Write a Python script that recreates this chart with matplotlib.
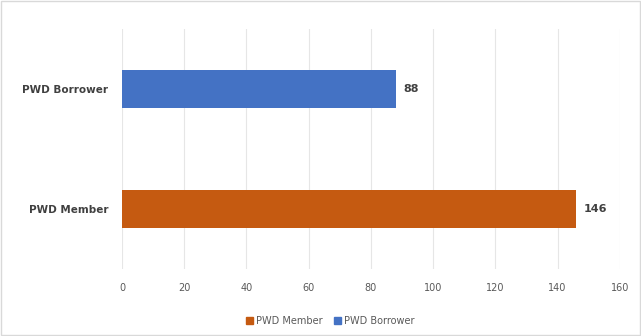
import matplotlib
matplotlib.use("Agg")
import matplotlib.pyplot as plt
from matplotlib.patches import Patch, Rectangle

categories = ["PWD Member", "PWD Borrower"]
values = [146, 88]
colors = ["#C55A11", "#4472C4"]
xticks = [0, 20, 40, 60, 80, 100, 120, 140, 160]

fig = plt.figure(figsize=(6.41, 3.36), dpi=100)
fig.patches.append(Rectangle((0.002, 0.003), 0.996, 0.994, transform=fig.transFigure,
                             fill=False, edgecolor="#D9D9D9", linewidth=1))
ax = fig.add_axes([0.1903, 0.1994, 0.7767, 0.7143])

bars = ax.barh(range(len(categories)), values, height=0.31, color=colors, zorder=3)
for i, v in enumerate(values):
    ax.text(v + 2.5, i, str(v), va="center", ha="left", fontsize=8,
            fontweight="bold", color="#404040")

ax.set_xlim(0, 160)
ax.set_ylim(-0.5, 1.5)
ax.set_xticks(xticks)
ax.set_xticklabels([str(t) for t in xticks], fontsize=7, color="#595959")
ax.set_yticks(range(len(categories)))
ax.set_yticklabels(categories, fontsize=7.5, fontweight="bold", color="#404040")
ax.tick_params(axis="both", length=0)
ax.tick_params(axis="x", pad=10)
ax.tick_params(axis="y", pad=10)
ax.grid(axis="x", color="#E6E6E6", linewidth=0.8, zorder=0)
for s in ax.spines.values():
    s.set_visible(False)

handles = [Patch(color=colors[0], label=categories[0]),
           Patch(color=colors[1], label=categories[1])]
fig.legend(handles=handles, loc="center", bbox_to_anchor=(0.515, 0.045), ncol=2,
           frameon=False, fontsize=7, handlelength=0.7, handleheight=0.7,
           handletextpad=0.3, columnspacing=1.2, labelcolor="#595959")

fig.savefig("out.png", dpi=100)
